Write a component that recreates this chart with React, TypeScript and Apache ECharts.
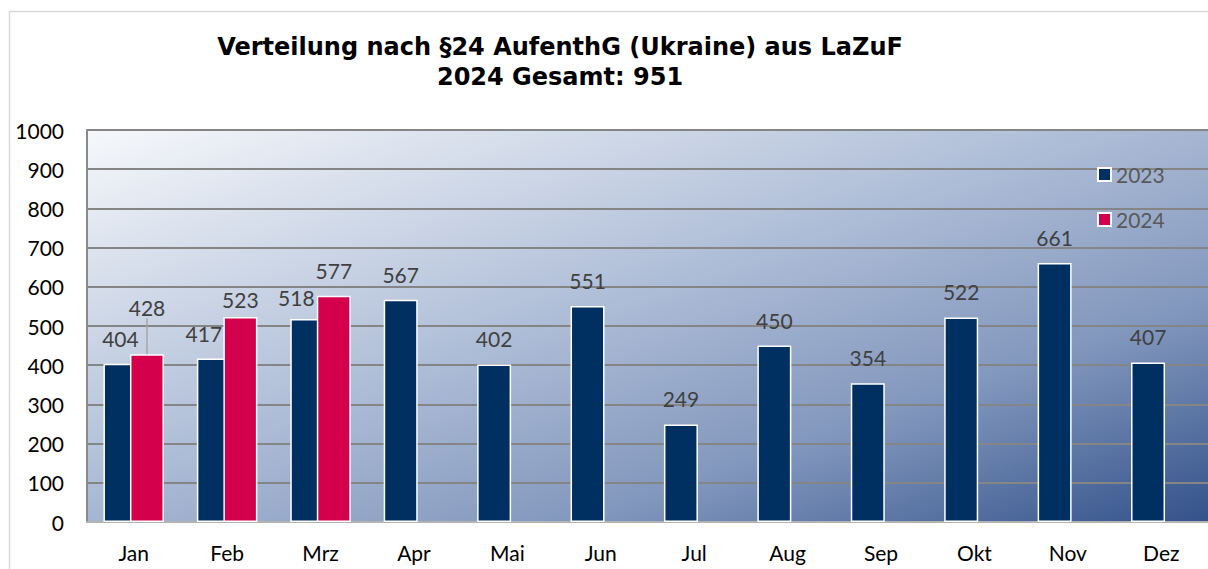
import React, { useEffect, useRef } from 'react';
import * as echarts from 'echarts';

const titleLines = ['Verteilung nach §24 AufenthG (Ukraine) aus LaZuF', '2024 Gesamt: 951'];
const months = ['Jan', 'Feb', 'Mrz', 'Apr', 'Mai', 'Jun', 'Jul', 'Aug', 'Sep', 'Okt', 'Nov', 'Dez'];
const seriesNames = ['2023', '2024'];
const values2023 = [404, 417, 518, 567, 402, 551, 249, 450, 354, 522, 661, 407];
const values2024 = [428, 523, 577];
const yMin = 0;
const yMax = 1000;
const yStep = 100;

// label nudges (style only)
const nudge2023: Record<number, { dx?: number; dy?: number }> = { 1: { dx: -10 }, 2: { dx: -11, dy: 4 } };
const nudge2024: Record<number, { dx?: number; dy?: number }> = { 0: { dy: -21 }, 1: { dy: 8 } };

const NUM_FONT = 'Lato, "Open Sans", sans-serif';

export default function App() {
  const ref = useRef<HTMLDivElement>(null);
  useEffect(() => {
    if (!ref.current) return;
    const chart = echarts.init(ref.current, undefined, { renderer: 'svg' });
    const labelStyle = {
      show: true,
      position: 'top',
      distance: 15,
      color: '#404040',
      fontFamily: NUM_FONT,
      fontSize: 21,
    };
    chart.setOption({
      animation: false,
      backgroundColor: '#ffffff',
      graphic: [
        {
          type: 'rect',
          shape: { x: 9.5, y: 11.5, width: 1500, height: 900 },
          style: { fill: 'none', stroke: '#d9d9d9', lineWidth: 1.5 },
          z: -10,
        },
        {
          type: 'text',
          x: 560,
          y: 62,
          style: {
            text: titleLines.join('\n'),
            textAlign: 'center',
            textVerticalAlign: 'middle',
            fontFamily: '"DejaVu Sans", sans-serif',
            fontWeight: 'bold',
            fontSize: 24,
            lineHeight: 30,
            fill: '#000000',
          },
        },
      ],
      legend: {
        orient: 'vertical',
        left: 1097,
        top: 164,
        padding: 0,
        itemWidth: 13,
        itemHeight: 13,
        itemGap: 24,
        icon: 'rect',
        data: seriesNames,
        textStyle: { color: '#595959', fontFamily: NUM_FONT, fontSize: 21, lineHeight: 21 },
      },
      grid: {
        left: 87,
        top: 130,
        right: -11,
        bottom: 47,
        show: true,
        borderWidth: 0,
        backgroundColor: {
          type: 'linear',
          x: 0,
          y: 0,
          x2: 1,
          y2: 1,
          colorStops: [
            { offset: 0, color: '#f6f8fb' },
            { offset: 0.45, color: '#aebdd7' },
            { offset: 0.72, color: '#8297bd' },
            { offset: 1, color: '#33528a' },
          ],
        },
      },
      xAxis: {
        type: 'category',
        data: months,
        axisLine: { show: true, lineStyle: { color: '#b3b3b3', width: 2 } },
        axisTick: { show: false },
        axisLabel: { color: '#000000', fontFamily: NUM_FONT, fontSize: 21, margin: 20 },
      },
      yAxis: {
        type: 'value',
        min: yMin,
        max: yMax,
        interval: yStep,
        axisLine: { show: true, lineStyle: { color: '#8a8a8a', width: 2 } },
        axisTick: { show: false },
        axisLabel: {
          color: '#000000',
          fontFamily: NUM_FONT,
          fontSize: 21,
          margin: 23,
          formatter: (v: number) => String(v),
        },
        splitLine: { show: true, lineStyle: { color: '#858585', width: 2 } },
      },
      series: [
        {
          name: seriesNames[0],
          type: 'bar',
          data: values2023,
          barWidth: 34,
          barGap: '-22%',
          itemStyle: { color: '#002f62', borderColor: '#ffffff', borderWidth: 1.5 },
          label: labelStyle,
          labelLayout: (p: any) => nudge2023[p.dataIndex] || {},
        },
        {
          name: seriesNames[1],
          type: 'bar',
          data: values2024.map((v, i) =>
            i === 0
              ? { value: v, labelLine: { show: true, lineStyle: { color: '#a6a6a6', width: 1.5 } } }
              : v
          ),
          barWidth: 34,
          barGap: '-22%',
          itemStyle: { color: '#d4004c', borderColor: '#ffffff', borderWidth: 1.5 },
          label: labelStyle,
          labelLayout: (p: any) => nudge2024[p.dataIndex] || {},
        },
      ],
    });
    return () => chart.dispose();
  }, []);
  return (
    <div
      ref={ref}
      style={{ position: 'absolute', left: 0, top: 0, width: 1208, height: 569 }}
    />
  );
}
